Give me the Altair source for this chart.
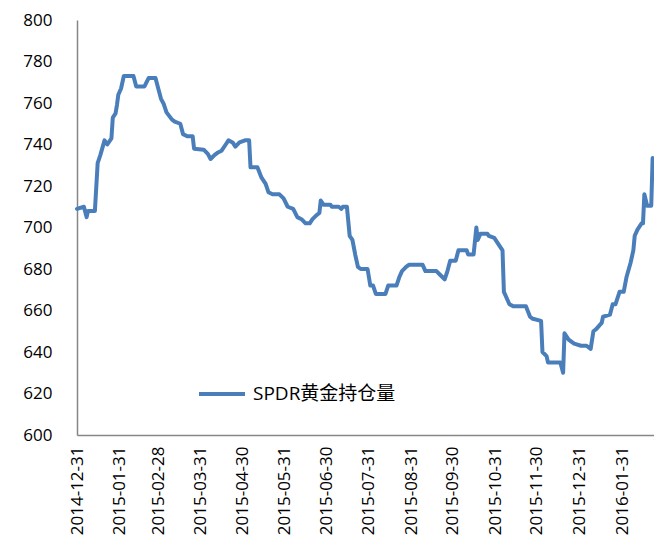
import altair as alt
import pandas as pd

series_name = "SPDR黄金持仓量"

dates = [
    "2014-12-31", "2015-01-05", "2015-01-07", "2015-01-08", "2015-01-13", "2015-01-15",
    "2015-01-17", "2015-01-20", "2015-01-22", "2015-01-25", "2015-01-26", "2015-01-28",
    "2015-01-29", "2015-01-30", "2015-02-01", "2015-02-03", "2015-02-10", "2015-02-12",
    "2015-02-18", "2015-02-21", "2015-02-26", "2015-02-28", "2015-03-02", "2015-03-04",
    "2015-03-06", "2015-03-10", "2015-03-12", "2015-03-16", "2015-03-18", "2015-03-21",
    "2015-03-25", "2015-03-26", "2015-04-02", "2015-04-05", "2015-04-07", "2015-04-10",
    "2015-04-12", "2015-04-15", "2015-04-18", "2015-04-20", "2015-04-23", "2015-04-25",
    "2015-04-28", "2015-05-02", "2015-05-05", "2015-05-06", "2015-05-11", "2015-05-14",
    "2015-05-17", "2015-05-19", "2015-05-22", "2015-05-27", "2015-05-30", "2015-06-02",
    "2015-06-06", "2015-06-09", "2015-06-12", "2015-06-15", "2015-06-18", "2015-06-20",
    "2015-06-23", "2015-06-25", "2015-06-26", "2015-06-28", "2015-07-03", "2015-07-04",
    "2015-07-09", "2015-07-11", "2015-07-12", "2015-07-15", "2015-07-17", "2015-07-19",
    "2015-07-21", "2015-07-23", "2015-07-25", "2015-07-30", "2015-08-01", "2015-08-03",
    "2015-08-05", "2015-08-12", "2015-08-14", "2015-08-20", "2015-08-22", "2015-08-24",
    "2015-08-27", "2015-08-29", "2015-09-08", "2015-09-10", "2015-09-18", "2015-09-21",
    "2015-09-24", "2015-09-26", "2015-09-28", "2015-10-02", "2015-10-04", "2015-10-10",
    "2015-10-11", "2015-10-15", "2015-10-17", "2015-10-18", "2015-10-20", "2015-10-25",
    "2015-10-26", "2015-10-30", "2015-11-02", "2015-11-05", "2015-11-06", "2015-11-08",
    "2015-11-10", "2015-11-13", "2015-11-22", "2015-11-25", "2015-11-27", "2015-12-03",
    "2015-12-04", "2015-12-07", "2015-12-08", "2015-12-17", "2015-12-19", "2015-12-20",
    "2015-12-23", "2015-12-27", "2016-01-01", "2016-01-05", "2016-01-08", "2016-01-10",
    "2016-01-12", "2016-01-16", "2016-01-17", "2016-01-22", "2016-01-24", "2016-01-26",
    "2016-01-29", "2016-02-01", "2016-02-03", "2016-02-06", "2016-02-08", "2016-02-09",
    "2016-02-11", "2016-02-14", "2016-02-15", "2016-02-16", "2016-02-18", "2016-02-21",
    "2016-02-22",
]

holdings = [
    709, 710, 705, 708, 708, 731,
    735, 742, 740, 743, 753, 755,
    759, 764, 767, 773, 773, 768,
    768, 772, 772, 767, 762, 759.5,
    755.5, 752, 751, 750, 745, 744,
    744, 738, 737.5, 735.5, 733, 735,
    736, 737, 740, 742, 741, 739,
    741, 742, 742, 729, 729, 724,
    721, 717, 716, 716, 714, 710,
    709, 705, 704, 702, 702, 704,
    706, 707, 713, 711, 711, 710,
    710, 709, 710, 710, 696, 694,
    687, 681, 680, 680, 672, 672,
    668, 668, 672, 672, 676, 679,
    681, 682, 682, 679, 679, 677,
    675, 679, 684, 684, 689, 689,
    687, 687, 700, 694, 697, 697,
    696, 695, 692, 689, 669, 666,
    663, 662, 662, 657, 656, 655,
    640, 638, 635, 635, 630, 649,
    646, 644, 643, 643, 641.5, 650,
    651, 654, 657, 658, 663, 663,
    669, 669, 676, 683, 689, 696,
    699, 702, 702, 716, 710.5, 710.5,
    733.5,
]

month_ticks = [
    (2014, 12, 31), (2015, 1, 31), (2015, 2, 28), (2015, 3, 31), (2015, 4, 30),
    (2015, 5, 31), (2015, 6, 30), (2015, 7, 31), (2015, 8, 31), (2015, 9, 30),
    (2015, 10, 31), (2015, 11, 30), (2015, 12, 31), (2016, 1, 31),
]
y_ticks = [600, 620, 640, 660, 680, 700, 720, 740, 760, 780, 800]

df = pd.DataFrame({"date": dates, "value": holdings, "series": series_name})

FONT = "Open Sans, Noto Sans CJK SC"

chart = (
    alt.Chart(df)
    .mark_line(strokeWidth=4, strokeJoin="round", strokeCap="round")
    .encode(
        x=alt.X(
            "date:T",
            scale=alt.Scale(
                type="utc",
                domain=[
                    alt.DateTime(year=2014, month=12, date=31, utc=True),
                    alt.DateTime(year=2016, month=2, date=23, utc=True),
                ],
            ),
            axis=alt.Axis(
                title=None,
                values=[alt.DateTime(year=y, month=m, date=d, utc=True) for (y, m, d) in month_ticks],
                format="%Y-%m-%d",
                labelAngle=-90,
                labelPadding=11,
                ticks=False,
                grid=False,
                domainColor="#868686",
                domainWidth=1.5,
                labelFont=FONT,
                labelFontSize=17,
                labelColor="#000000",
                labelOverlap=False,
                labelBound=False,
                labelFlush=False,
            ),
        ),
        y=alt.Y(
            "value:Q",
            scale=alt.Scale(domain=[600, 800], nice=False, zero=False),
            axis=alt.Axis(
                title=None,
                values=y_ticks,
                ticks=False,
                grid=False,
                labelPadding=25,
                domainColor="#868686",
                domainWidth=1.5,
                labelFont=FONT,
                labelFontSize=17,
                labelColor="#000000",
                labelOverlap=False,
                labelFlush=False,
            ),
        ),
        color=alt.Color(
            "series:N",
            scale=alt.Scale(range=["#4A7EBB"]),
            legend=alt.Legend(
                title=None,
                orient="none",
                legendX=120,
                legendY=349,
                symbolType="stroke",
                symbolStrokeWidth=4,
                symbolSize=2116,
                labelFont=FONT,
                labelFontSize=19,
                labelColor="#000000",
                labelOffset=6,
            ),
        ),
    )
    .properties(
        width=577,
        height=415,
        autosize=alt.AutoSizeParams(type="none"),
        padding={"left": 69, "top": 12, "right": 0, "bottom": 103},
    )
    .configure_view(stroke="transparent")
)

chart.save("out.html", embed_options={"renderer": "svg", "actions": False})
